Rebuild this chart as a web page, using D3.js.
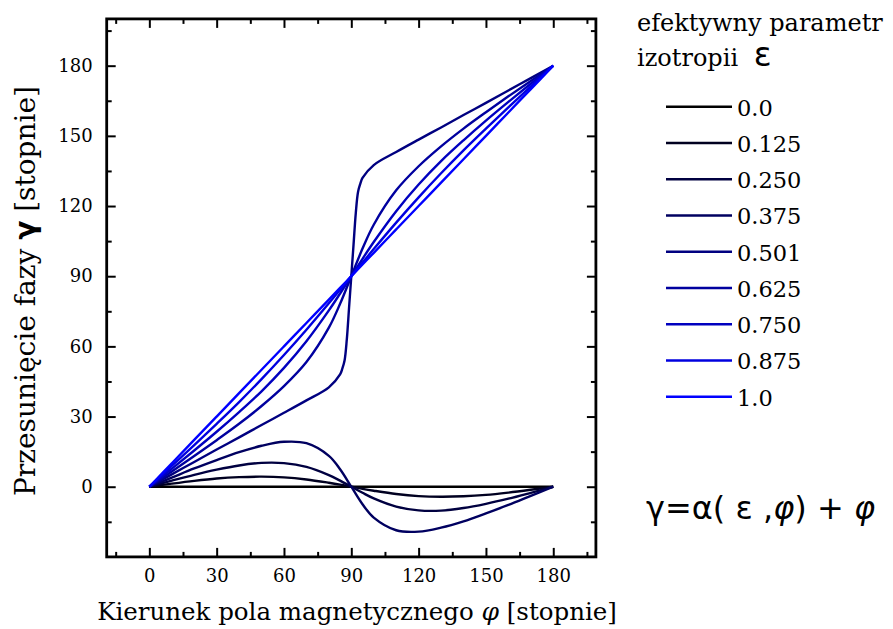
<!DOCTYPE html>
<html>
<head>
<meta charset="utf-8">
<title>Przesuniecie fazy</title>
<script src="https://d3js.org/d3.v7.min.js"></script>
<style>
  body { margin: 0; background: #fff; }
  svg { display: block; }
  .axis text { font-family: "DejaVu Serif", serif; font-size: 18px; fill: #000; }
  .axis line { stroke: #000; stroke-width: 2px; }
  .axis path { display: none; }
</style>
</head>
<body>
<svg width="893" height="629"></svg>
<script>
// kierunek pola (stopnie)
var phi = [0,10,20,30,40,50,60,70,80,85,90,95,100,110,120,130,140,150,160,170,180];
// gesta siatka dla krzywej 0.501 (skok przy 90)
var phiSharp = [0,10,20,30,40,50,60,70,80,85,86,87,88,89,90,91,92,93,94,95,100,110,120,130,140,150,160,170,180];

var epsLabels = ["0.0","0.125","0.250","0.375","0.501","0.625","0.750","0.875","1.0"];
var epsValues = [0, 0.125, 0.25, 0.375, 0.501, 0.625, 0.75, 0.875, 1.0];

var g000 = [0,0,0,0,0,0,0,0,0,0,0,0,0,0,0,0,0,0,0,0,0];
var g125 = [0,1.3,2.5,3.5,4.1,4.3,4.0,3.1,1.7,0.9,0,-0.9,-1.7,-3.1,-4.0,-4.3,-4.1,-3.5,-2.5,-1.3,0];
var g250 = [0,2.6,5.1,7.3,9.1,10.2,10.1,8.5,5.0,2.6,0,-2.6,-5.0,-8.5,-10.1,-10.2,-9.1,-7.3,-5.1,-2.6,0];
var g375 = [0,3.9,7.8,11.4,14.8,17.5,19.2,18.6,13.2,7.5,0,-7.5,-13.2,-18.6,-19.2,-17.5,-14.8,-11.4,-7.8,-3.9,0];
var g501 = [0,5.3,10.6,15.9,21.1,26.4,31.6,36.9,42.5,48,50.5,54,63,76.5,90,103.5,117,126,129.5,132,137.5,143.1,148.4,153.6,158.9,164.1,169.4,174.7,180];
var g625 = [0,6.5,13.1,19.9,26.9,34.5,43.0,53.3,68.0,78.2,90,101.8,112.0,126.7,137.0,145.5,153.1,160.1,166.9,173.5,180];
var g750 = [0,7.7,15.5,23.5,31.9,40.8,50.8,62.2,75.4,82.6,90,97.4,104.6,117.8,129.2,139.2,148.1,156.5,164.5,172.3,180];
var g875 = [0,8.9,17.8,26.9,36.2,46.0,56.3,67.1,78.4,84.2,90,95.8,101.6,112.9,123.7,134.0,143.8,153.1,162.2,171.1,180];
var g1000 = [0,10,20,30,40,50,60,70,80,85,90,95,100,110,120,130,140,150,160,170,180];

var xTicks = [0,30,60,90,120,150,180];
var xMinor = [-15,15,45,75,105,135,165,195];
var yTicks = [0,30,60,90,120,150,180];
var yMinor = [-15,15,45,75,105,135,165,195];

var series = [
  {x: phi, y: g000}, {x: phi, y: g125}, {x: phi, y: g250}, {x: phi, y: g375},
  {x: phiSharp, y: g501}, {x: phi, y: g625}, {x: phi, y: g750}, {x: phi, y: g875}, {x: phi, y: g1000}
];

var svg = d3.select("svg");
var pLeft = 106.7, pRight = 595.9, pTop = 18.9, pBottom = 556.9;

var xs = d3.scaleLinear().domain([-19,199]).range([pLeft,pRight]);
var ys = d3.scaleLinear().domain([-30,200]).range([pBottom,pTop]);
var col = d3.interpolateRgb("#000000", "#0000ff");

// osie (ticki do wewnatrz)
svg.append("g").attr("class","axis").attr("transform","translate(0,"+pBottom+")")
  .call(d3.axisBottom(xs).tickValues(xTicks).tickSize(-9).tickPadding(12));
svg.append("g").attr("class","axis").attr("transform","translate(0,"+pBottom+")")
  .call(d3.axisBottom(xs).tickValues(xMinor).tickSize(-5).tickFormat(""));
svg.append("g").attr("class","axis").attr("transform","translate(0,"+pTop+")")
  .call(d3.axisTop(xs).tickValues(xTicks).tickSize(-9).tickFormat(""));
svg.append("g").attr("class","axis").attr("transform","translate(0,"+pTop+")")
  .call(d3.axisTop(xs).tickValues(xMinor).tickSize(-5).tickFormat(""));
svg.append("g").attr("class","axis").attr("transform","translate("+pLeft+",0)")
  .call(d3.axisLeft(ys).tickValues(yTicks).tickSize(-9).tickPadding(14));
svg.append("g").attr("class","axis").attr("transform","translate("+pLeft+",0)")
  .call(d3.axisLeft(ys).tickValues(yMinor).tickSize(-5).tickFormat(""));
svg.append("g").attr("class","axis").attr("transform","translate("+pRight+",0)")
  .call(d3.axisRight(ys).tickValues(yTicks).tickSize(-9).tickFormat(""));
svg.append("g").attr("class","axis").attr("transform","translate("+pRight+",0)")
  .call(d3.axisRight(ys).tickValues(yMinor).tickSize(-5).tickFormat(""));

svg.append("rect")
  .attr("x",pLeft).attr("y",pTop)
  .attr("width",pRight-pLeft).attr("height",pBottom-pTop)
  .attr("fill","none").attr("stroke","#000").attr("stroke-width",2.8);

// krzywe
var line = d3.line().curve(d3.curveCatmullRom.alpha(0.5));
svg.append("g").selectAll("path")
  .data(series)
  .enter().append("path")
  .attr("fill","none")
  .attr("stroke-width",2.4)
  .attr("stroke",function(d,i){return col(epsValues[i]);})
  .attr("d",function(d){
    return line(d.x.map(function(v,j){return [xs(v), ys(d.y[j])];}));
  });

// tytuly osi
svg.append("text")
  .attr("x",357).attr("y",620)
  .attr("text-anchor","middle")
  .style("font-family","DejaVu Serif, serif").style("font-size","24.5px")
  .html('Kierunek pola magnetycznego <tspan font-style="italic" font-size="25px">φ</tspan>  [stopnie]');

svg.append("text")
  .attr("transform","translate(35,291)rotate(-90)")
  .attr("text-anchor","middle")
  .style("font-family","DejaVu Serif, serif").style("font-size","28px")
  .html('Przesunięcie fazy <tspan font-weight="bold" font-family="DejaVu Sans" font-size="28px">γ</tspan> [stopnie]');

// legenda
var leg = svg.append("g");
leg.append("text").attr("x",637).attr("y",31)
  .style("font-family","DejaVu Serif, serif").style("font-size","24px")
  .text("efektywny parametr");
leg.append("text").attr("x",637).attr("y",66)
  .style("font-family","DejaVu Serif, serif").style("font-size","24px")
  .html('izotropii <tspan font-family="DejaVu Sans" font-size="33px" dx="8">ε</tspan>');

var rows = leg.selectAll("g.row")
  .data(epsLabels)
  .enter().append("g")
  .attr("transform",function(d,i){return "translate(0,"+(106.7+36.25*i)+")";});
rows.append("line")
  .attr("x1",666).attr("x2",732).attr("y1",0).attr("y2",0)
  .attr("stroke-width",2.5)
  .attr("stroke",function(d,i){return col(epsValues[i]);});
rows.append("text")
  .attr("x",737).attr("y",9)
  .style("font-family","DejaVu Serif, serif").style("font-size","22.5px")
  .text(function(d){return d;});

// wzor
svg.append("text")
  .attr("x",646).attr("y",519)
  .style("font-family","DejaVu Sans, sans-serif").style("font-size","32px")
  .html('γ=α( ε ,<tspan font-style="italic">φ</tspan>) + <tspan font-style="italic">φ</tspan>');
</script>
</body>
</html>
